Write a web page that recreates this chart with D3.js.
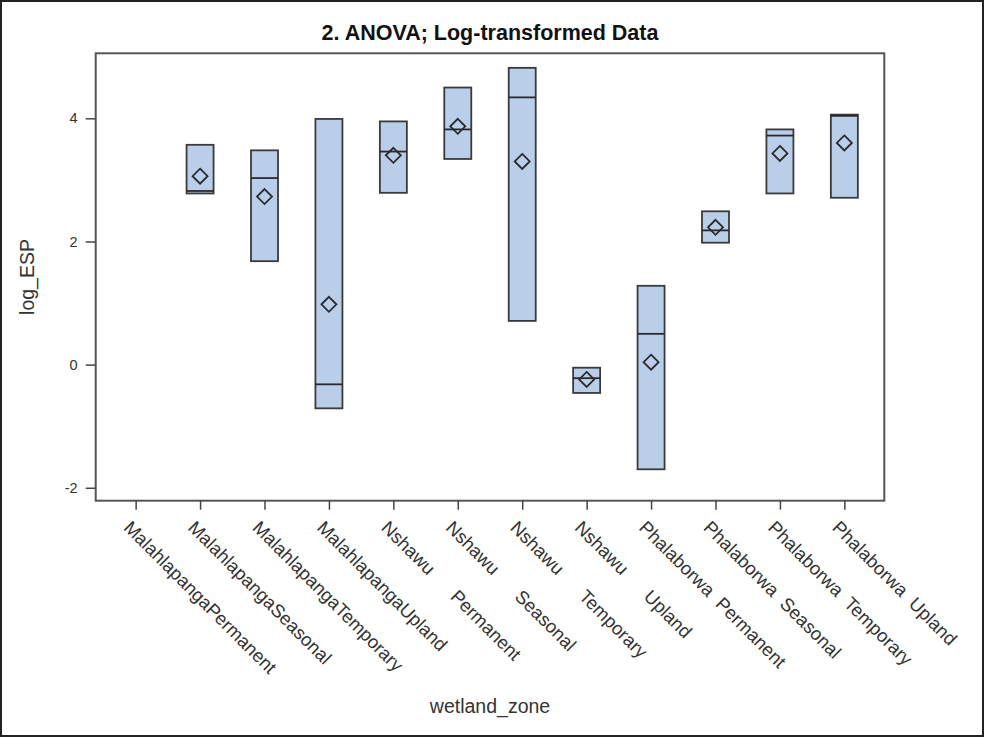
<!DOCTYPE html>
<html>
<head>
<meta charset="utf-8">
<script src="https://cdn.jsdelivr.net/npm/d3@7"></script>
<style>
  html, body { margin: 0; padding: 0; background: #fff; }
  svg { display: block; font-family: Arial, "Liberation Sans", sans-serif; }
</style>
</head>
<body>
<svg id="chart" width="984" height="737"></svg>
<script>
// Wetland zones: site name padded to a fixed width, then the zone
const categories = [
  "MalahlapangaPermanent", "MalahlapangaSeasonal", "MalahlapangaTemporary",
  "MalahlapangaUpland", "Nshawu      Permanent", "Nshawu      Seasonal",
  "Nshawu      Temporary", "Nshawu      Upland", "Phalaborwa  Permanent",
  "Phalaborwa  Seasonal", "Phalaborwa  Temporary", "Phalaborwa  Upland"
];
// Box extent, median and mean of log_ESP per zone (null = no observations)
const boxHigh = [null, 3.57, 3.48, 3.99, 3.95, 4.50, 4.82, -0.05, 1.28, 2.49, 3.82, 4.06];
const boxLow  = [null, 2.78, 1.68, -0.71, 2.79, 3.34, 0.71, -0.46, -1.70, 1.98, 2.78, 2.71];
const median  = [null, 2.82, 3.03, -0.32, 3.46, 3.82, 4.34, -0.22, 0.50, 2.18, 3.72, 4.04];
const mean    = [null, 3.06, 2.73, 0.98, 3.40, 3.87, 3.30, -0.24, 0.04, 2.23, 3.43, 3.60];
const yTicks  = [-2, 0, 2, 4];

const titleText = "2. ANOVA; Log-transformed Data";
const xLabel = "wetland_zone";
const yLabel = "log_ESP";

const svg = d3.select("#chart");
const W = 984, H = 737;
const plot = { left: 95.7, right: 884.3, top: 53.3, bottom: 500.7 };

// Outer border of the graph
svg.append("rect")
  .attr("x", 1).attr("y", 1).attr("width", W - 2).attr("height", H - 2)
  .attr("fill", "#fff").attr("stroke", "#222").attr("stroke-width", 2);

const x = d3.scalePoint().domain(categories).range([plot.left, plot.right]).padding(0.62);
const y = d3.scaleLinear().domain([-2.21, 5.056]).range([plot.bottom, plot.top]);

const rows = categories.map((c, i) => ({
  cat: c, hi: boxHigh[i], lo: boxLow[i], med: median[i], mean: mean[i]
})).filter(d => d.hi !== null);

const boxW = 27;
const g = svg.append("g");

// Boxes
g.selectAll("rect.box").data(rows).join("rect")
  .attr("class", "box")
  .attr("x", d => x(d.cat) - boxW / 2)
  .attr("y", d => y(d.hi))
  .attr("width", boxW)
  .attr("height", d => y(d.lo) - y(d.hi))
  .attr("fill", "#b9cfe9")
  .attr("stroke", "#3a3a3a")
  .attr("stroke-width", 1.8);

// Median lines
g.selectAll("line.med").data(rows).join("line")
  .attr("x1", d => x(d.cat) - boxW / 2)
  .attr("x2", d => x(d.cat) + boxW / 2)
  .attr("y1", d => y(d.med)).attr("y2", d => y(d.med))
  .attr("stroke", "#2a2a2a").attr("stroke-width", 1.8);

// Mean markers (diamonds)
const dia = 7.5;
g.selectAll("path.mean").data(rows).join("path")
  .attr("d", d => {
    const cx = x(d.cat), cy = y(d.mean);
    return `M${cx},${cy - dia}L${cx + dia},${cy}L${cx},${cy + dia}L${cx - dia},${cy}Z`;
  })
  .attr("fill", "none").attr("stroke", "#2a2a2a").attr("stroke-width", 1.8);

// Plot frame
svg.append("rect")
  .attr("x", plot.left).attr("y", plot.top)
  .attr("width", plot.right - plot.left).attr("height", plot.bottom - plot.top)
  .attr("fill", "none").attr("stroke", "#555").attr("stroke-width", 2);

// Y axis
const yAxis = svg.append("g")
  .attr("transform", `translate(${plot.left},0)`)
  .call(d3.axisLeft(y).tickValues(yTicks).tickSize(10).tickPadding(8).tickFormat(d => String(d)));
yAxis.select(".domain").remove();
yAxis.selectAll(".tick line").attr("stroke", "#444").attr("stroke-width", 1.5);
yAxis.selectAll(".tick text").attr("fill", "#333").attr("font-size", 14.5)
  .attr("font-family", "Arial, 'Liberation Sans', sans-serif");

// X axis
const xAxis = svg.append("g")
  .attr("transform", `translate(0,${plot.bottom})`)
  .call(d3.axisBottom(x).tickSize(9).tickFormat(""));
xAxis.select(".domain").remove();
xAxis.selectAll(".tick line").attr("stroke", "#444").attr("stroke-width", 1.5);

// Rotated category labels
svg.append("g").selectAll("text").data(categories).join("text")
  .attr("transform", d => `translate(${x(d) - 13},${plot.bottom + 28}) rotate(45)`)
  .attr("text-anchor", "start")
  .style("white-space", "pre")
  .attr("font-size", 18.5)
  .attr("fill", "#333")
  .text(d => d);

// Title
svg.append("text")
  .attr("x", (plot.left + plot.right) / 2).attr("y", 40)
  .attr("text-anchor", "middle")
  .attr("font-size", 21.5).attr("font-weight", "bold").attr("fill", "#111")
  .text(titleText);

// Axis titles
svg.append("text")
  .attr("x", (plot.left + plot.right) / 2).attr("y", 713)
  .attr("text-anchor", "middle")
  .attr("font-size", 19.5).attr("fill", "#333")
  .text(xLabel);

svg.append("text")
  .attr("transform", `translate(34,${(plot.top + plot.bottom) / 2}) rotate(-90)`)
  .attr("text-anchor", "middle")
  .attr("font-size", 19.5).attr("fill", "#333")
  .text(yLabel);
</script>
</body>
</html>
